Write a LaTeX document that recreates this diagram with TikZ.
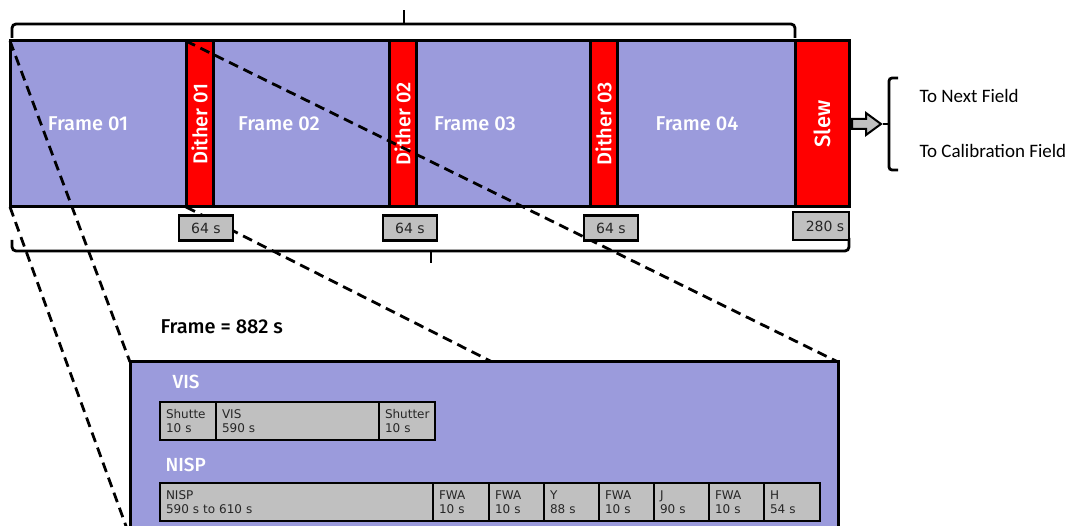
\documentclass[tikz,border=0pt]{standalone}
\usepackage{fontspec}
\setmainfont{Carlito}
\newfontfamily\labelfont{Fira Sans Medium}
\newfontfamily\boxfont{DejaVu Sans}
\usepackage{tikz}
\usetikzlibrary{calc}
\definecolor{flav}{RGB}{155,155,220}
\definecolor{fred}{RGB}{255,0,0}
\definecolor{bgray}{RGB}{192,192,192}

\begin{document}
\begin{tikzpicture}[
    x=1pt, y=-1pt,
    frame/.style={draw, line width=3pt, fill=flav, anchor=north west, minimum height=166pt, inner sep=0pt, outer sep=0pt, text=white, font=\labelfont\fontsize{20}{20}\selectfont},
    dither/.style={frame, fill=fred, minimum width=27pt},
    dur/.style={draw, line width=2.5pt, fill=bgray, minimum width=54pt, minimum height=25pt, inner sep=0pt, outer sep=0pt, font=\boxfont\fontsize{14}{14}\selectfont, text=black!85},
    cell/.style={draw, line width=2.5pt, fill=bgray, anchor=north west, minimum height=38pt, inner xsep=6pt, inner ysep=0pt, outer sep=0pt, align=left, font=\boxfont\fontsize{12}{14}\selectfont, text=black!85},
    zoomline/.style={line width=2.8pt, dash pattern=on 10pt off 6pt},
    brc/.style={line width=2.8pt, rounded corners=4pt},
]
    \clip (0,0) rectangle (1068,526);

    % Observation sequence
    \node[frame, minimum width=176pt] (f1) at (10,41) {Frame 01\hspace*{20pt}};
    \node[dither] (d1) at (186,41) {\rotatebox{90}{Dither 01}};
    \node[frame, minimum width=176pt] (f2) at (213,41) {Frame 02\hspace*{44pt}};
    \node[dither] (d2) at (389,41) {\rotatebox{90}{Dither 02}};
    \node[frame, minimum width=174pt] (f3) at (416,41) {Frame 03\hspace*{56pt}};
    \node[dither] (d3) at (590,41) {\rotatebox{90}{Dither 03}};
    \node[frame, minimum width=178pt] (f4) at (617,41) {Frame 04\hspace*{18pt}};
    \node[frame, fill=fred, minimum width=54pt, font=\labelfont\fontsize{22}{22}\selectfont] (slew) at (795,41) {\rotatebox{90}{Slew}};

    % Braces
    \draw[brc] (12,38) |- (404,24) -| (795,38);
    \draw[brc] (404,24) -- (404,10);
    \draw[brc] (12,240) |- (431,251) -| (849,238);
    \draw[brc] (431,251) -- (431,263);

    % Next target
    \draw[line width=2pt, fill=bgray, line join=miter] ([xshift=3pt,yshift=5pt]slew.east) -- ++(14,0) -- ++(0,-6) -- ++(15,11) -- ++(-15,11) -- ++(0,-6) -- ++(-14,0) -- cycle;
    \draw[brc, rounded corners=3pt] (898,78) -| (889,170) -- (898,170);
    \draw[brc] (889,124) -- (883,124);
    \node[anchor=west, font=\fontsize{19}{19}\selectfont] (next) at (916,96) {To Next Field};
    \node[anchor=west, font=\fontsize{19}{19}\selectfont] (calib) at (916,151) {To Calibration Field};

    % Zoom on one frame
    \draw[zoomline] (f1.north west) -- (130,362) coordinate (znw);
    \draw[zoomline] (f1.south west) -- (130,537) coordinate (zsw);
    \draw[zoomline] (d1.north west) -- (838,362) coordinate (zne);
    \draw[zoomline] (d1.south west) -- (838,537) coordinate (zse);

    % Durations
    \node[dur] (t1) at (206,228) {64 s};
    \node[dur] (t2) at (410,228) {64 s};
    \node[dur] (t3) at (611,228) {64 s};
    \node[dur, minimum width=56pt, minimum height=28pt] (t4) at (821,226) {\hspace*{8pt}280 s};

    \node[anchor=west, font=\labelfont\fontsize{20}{20}\selectfont] (frametime) at (157,327) {Frame = 882 s};

    % Frame detail
    \node[frame, minimum width=708pt, minimum height=175pt] (zoom) at (znw) {};
    \node[anchor=west, text=white, font=\labelfont\fontsize{19}{19}\selectfont] (vislbl) at (169,382) {VIS};
    \node[anchor=west, text=white, font=\labelfont\fontsize{19}{19}\selectfont] (nisplbl) at (162,465) {NISP};

    % VIS channel
    \node[cell, text width=44pt] (sh1) at (160,402) {Shutte\\10 s};
    \node[cell, text width=151pt] (vis) at (216,402) {VIS\\590 s};
    \node[cell, text width=44pt] (sh2) at (379,402) {Shutter\\10 s};

    % NISP channel
    \node[cell, text width=261pt] (nisp) at (160,483) {NISP\\590 s to 610 s};
    \node[cell, text width=44pt] (fwa1) at (433,483) {FWA\\10 s};
    \node[cell, text width=43pt] (fwa2) at (489,483) {FWA\\10 s};
    \node[cell, text width=43pt] (yband) at (544,483) {Y\\88 s};
    \node[cell, text width=43pt] (fwa3) at (599,483) {FWA\\10 s};
    \node[cell, text width=43pt] (jband) at (654,483) {J\\90 s};
    \node[cell, text width=43pt] (fwa4) at (709,483) {FWA\\10 s};
    \node[cell, text width=44pt] (hband) at (764,483) {H\\54 s};
\end{tikzpicture}
\end{document}
